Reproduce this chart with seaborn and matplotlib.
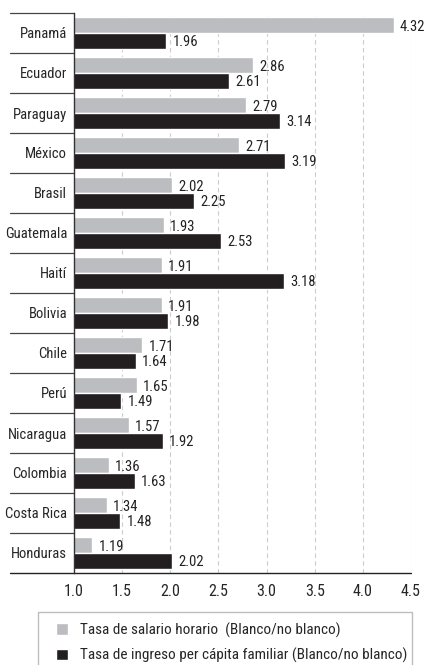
import numpy as np
import pandas as pd
import matplotlib
matplotlib.use("Agg")
import matplotlib.pyplot as plt
from matplotlib.patches import Rectangle
from matplotlib import font_manager
import seaborn as sns

# Data
countries = ["Panamá", "Ecuador", "Paraguay", "México", "Brasil", "Guatemala", "Haití",
             "Bolivia", "Chile", "Perú", "Nicaragua", "Colombia", "Costa Rica", "Honduras"]
salario = [4.32, 2.86, 2.79, 2.71, 2.02, 1.93, 1.91, 1.91, 1.71, 1.65, 1.57, 1.36, 1.34, 1.19]
ingreso = [1.96, 2.61, 3.14, 3.19, 2.25, 2.53, 3.18, 1.98, 1.64, 1.49, 1.92, 1.63, 1.48, 2.02]
series_names = ["Tasa de salario horario  (Blanco/no blanco)",
                "Tasa de ingreso per cápita familiar (Blanco/no blanco)"]
xticks = [1.0, 1.5, 2.0, 2.5, 3.0, 3.5, 4.0, 4.5]

GRAY = "#bcbdc0"
BLACK = "#231f20"

sns.set_style("white")
installed = {f.name for f in font_manager.fontManager.ttflist}
families = [f for f in ["Liberation Sans Narrow", "DejaVu Sans Condensed", "Roboto Condensed",
                        "Liberation Sans"] if f in installed] + ["DejaVu Sans"]
plt.rcParams["font.family"] = families
plt.rcParams["font.size"] = 10.5

df = pd.DataFrame({
    "pais": countries * 2,
    "valor": salario + ingreso,
    "serie": [series_names[0]] * len(countries) + [series_names[1]] * len(countries),
})

fig = plt.figure(figsize=(4.31, 6.65), dpi=100)
ax = fig.add_axes([74 / 431, 1 - 573 / 665, 337 / 431, 560 / 665])

sns.barplot(data=df, x="valor", y="pais", hue="serie", orient="h",
            palette=[GRAY, BLACK], order=countries, hue_order=series_names,
            width=0.8, saturation=1, ax=ax, legend=True)

ax.set_xlim(1.0, 4.5)
ax.set_ylim(len(countries) - 0.5, -0.5)
ax.set_xticks(xticks)
ax.set_xticklabels([f"{t:.1f}" for t in xticks], fontsize=11.5)
ax.set_xlabel("")
ax.set_ylabel("")

# dashed vertical grid
for t in xticks[1:]:
    ax.axvline(t, color="#cccccc", lw=0.8, ls=(0, (4, 3)), zorder=0)

# value labels
for i, (a, b) in enumerate(zip(salario, ingreso)):
    ax.annotate(f"{a:.2f}", (a, i - 0.2), xytext=(4.5, -1.5), textcoords="offset points",
                va="center", ha="left", fontsize=10.5, color="#222222")
    ax.annotate(f"{b:.2f}", (b, i + 0.2), xytext=(4.5, -0.5), textcoords="offset points",
                va="center", ha="left", fontsize=10.5, color="#222222")

# spines
for s in ["top", "right", "bottom"]:
    ax.spines[s].set_visible(False)
ax.spines["left"].set_color("#333333")
ax.spines["left"].set_linewidth(1.0)

# separators in the label column and extended bottom axis line
trans = ax.get_yaxis_transform()
left_edge = -64 / 337
for i in range(len(countries)):
    ax.plot([left_edge, 0], [i - 0.5, i - 0.5], transform=trans, color="#444444",
            lw=0.9, clip_on=False)
ax.plot([left_edge, 1], [len(countries) - 0.5] * 2, transform=trans, color="#222222",
        lw=1.0, clip_on=False)

ax.tick_params(axis="y", length=0, pad=5, labelsize=10.5)
ax.tick_params(axis="x", length=4, width=0.8, color="#444444", direction="inout", pad=6)

# legend with a box that runs off the bottom of the figure
leg = ax.get_legend()
handles = leg.legend_handles
leg.remove()
fig.legend(handles, series_names, loc="upper left",
           bbox_to_anchor=(51 / 431, 1 - 618 / 665), frameon=False,
           fontsize=11, handlelength=0.8, handleheight=0.8, handletextpad=0.8,
           labelspacing=0.65, borderpad=0.3, borderaxespad=0)
fig.patches.append(Rectangle((38 / 431, -0.02), 374 / 431, 1 - 612 / 665 + 0.02,
                             transform=fig.transFigure, fill=False,
                             edgecolor="#bdbdbd", lw=1.0))

plt.savefig("out.png", dpi=100)
plt.close()
